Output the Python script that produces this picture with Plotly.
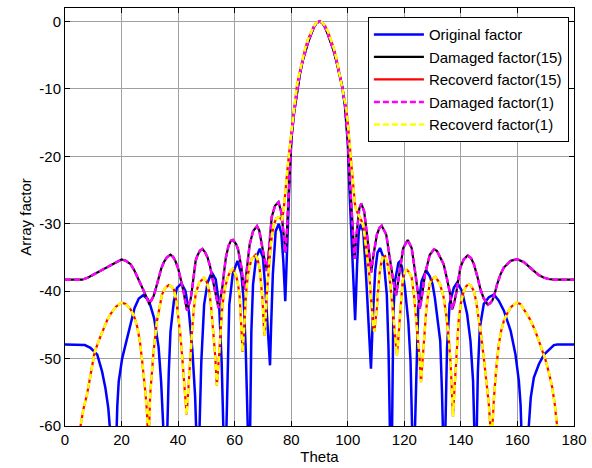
import plotly.graph_objects as go

# ---------------- data ----------------
orig_theta = [0, 3, 5.5, 7, 9, 11.4, 13.1, 14.3, 15.3, 16.2, 17, 18.0, 18.5, 19, 20.2, 21.4, 22.6, 23.4,
              24.6, 26.1, 27.7, 29.3, 30.1, 31.5, 33.1, 34, 34.6, 35.3, 35.9, 36.3, 36.7, 37.3, 38.5,
              39.6, 41.2, 42.6, 43.8, 45, 46, 46.6, 47.4, 48.2, 49.2, 50.4, 51.9, 53.3, 54.5, 55.4,
              56.1, 57.0, 57.6, 58.1, 59.3, 61.0, 62.4, 63.2, 63.9, 64.4, 64.8, 65.4, 65.9, 66.5, 67.6,
              68.9, 70, 70.9, 71.8, 72.5, 72.9, 73.5, 74.5, 75.6, 76.5, 77.2, 77.9, 78.5, 79.1, 79.6,
              80.2, 81, 82, 83, 84, 85, 86, 87, 88, 89, 90, 91, 92, 93, 94, 95, 96, 97, 98, 99, 100,
              100.6, 101.4, 102.1, 102.6, 103.3, 103.9, 104.6, 105.5, 106.5, 107.4, 108.2, 108.9, 109.7,
              110.5, 111.4, 112.6, 113.8, 114.4, 115.0, 115.6, 116.1, 116.7, 117.9, 118.4, 119.1, 120.2,
              121.4, 122.2, 122.9, 123.6, 124.1, 124.9, 126.1, 127.7, 129, 130, 130.8, 131.6, 132.7,
              133.3, 133.8, 134.4, 135.1, 136, 137.5, 138.7, 140.4, 142.2, 143.4, 144.3, 144.9, 145.5,
              146, 146.7, 148.1, 149.9, 151.7, 153.4, 155.2, 157.6, 159.3, 160.5, 161.1, 161.6, 162.5,
              163.7, 164.7, 165.8, 167.6, 169.4, 171.2, 172.9, 174.1, 180]
orig_db = [-47.9, -47.9, -47.9, -48.0, -48.4, -49.4, -51.9, -54.4, -57.3, -62, -70, -64, -57, -53.4, -50,
           -47.9, -46, -44.5, -42.5, -41.1, -40.6, -41.2, -42, -44, -48.3, -53.5, -58.5, -65, -65, -58,
           -52, -46, -41.5, -39.5, -38.85, -40, -43, -48.5, -55.5, -63, -63, -50.5, -42, -38.75, -37.2,
           -38.25, -42, -50.5, -62, -62, -49, -42, -37.5, -35.5, -37.5, -41.5, -48.4, -55.8, -63, -63,
           -46, -39, -35, -33.7, -35, -40, -47.4, -51, -45, -37.5, -31.1, -30, -31.4, -35.5, -41.5,
           -35.5, -27, -21.1, -16.8, -13.5, -10.3, -7.9, -5.9, -4.3, -3.0, -1.9, -0.85, -0.2, 0, -0.2,
           -0.85, -1.9, -3.0, -4.3, -5.9, -7.7, -9.6, -12.5, -18, -25, -33.5, -39.4, -44.3, -36, -31.1,
           -30.1, -31.2, -38, -45.9, -51.5, -43.5, -37, -34.3, -33.6, -35, -40.5, -48.4, -63, -63, -43.5,
           -38.5, -35.8, -35.6, -36.3, -39.5, -44.5, -50.4, -63, -63, -55, -42.5, -38.5, -36.9, -37.8,
           -39, -41, -44, -47.4, -54.8, -63, -63, -48.4, -41.9, -39.5, -38.7, -40, -43.4, -47.4, -53.3,
           -63, -63, -52, -45.4, -41.9, -40.9, -40.5, -41.4, -42.9, -45.9, -49.4, -53.3, -56.8, -63,
           -70, -62, -55.8, -52.8, -50.8, -49.4, -48.6, -48, -47.9, -47.9]

dmg_theta = [0, 3, 6, 8, 10.2, 12.5, 15, 17.5, 20, 21.5, 23.2, 24.5, 25.6, 26.8, 27.9, 28.8, 29.7, 30.5,
             31.3, 32.2, 33.1, 34, 34.9, 36, 37.3, 38.2, 39, 40, 40.8, 41.4, 42, 42.6, 43.2, 43.7, 44.4,
             45, 45.6, 46.2, 46.8, 47.7, 48.6, 49.5, 50.4, 51.3, 52.1, 52.7, 53.3, 54.3, 55, 55.7, 56.3,
             56.9, 57.8, 58.7, 59.4, 60.5, 61.2, 61.8, 62.4, 63.2, 63.6, 64.1, 64.7, 65.3, 66.5, 67.9,
             68.7, 69.6, 70.5, 71.3, 71.9, 72.5, 73.1, 74.3, 75.5, 76.5, 77.3, 78, 78.5, 79.1, 79.5, 80,
             81, 82, 83, 84, 85, 86, 87, 88, 89, 90, 91, 92, 93, 94, 95, 96, 97, 98, 99, 99.5, 100,
             100.6, 101.1, 101.8, 102.4, 103, 103.5, 104.1, 104.8, 105.8, 107, 107.7, 108.3, 109.1, 110.3,
             111.2, 112, 113.6, 115, 116.1, 117.1, 118.2, 119.6, 121.2, 122.6, 124.1, 125.5, 126.3, 127.3,
             129, 130.5, 131.5, 133.9, 135, 136, 136.9, 137.6, 138.3, 139, 139.8, 141, 142.4, 143.6,
             144.6, 145.8, 146.9, 148, 149.5, 150.3, 151.1, 152, 152.8, 154, 155.2, 157.6, 159.9, 162.3,
             164, 165.8, 167.5, 169.4, 171, 172.9, 180]
dmg_db = [-38.3, -38.3, -38.3, -38, -37.5, -37, -36.4, -35.8, -35.3, -35.5, -36, -36.9, -38, -39, -40,
          -41, -41.8, -41.4, -40.75, -39.5, -38, -36.7, -35.75, -35, -34.6, -34.9, -35.5, -36.6, -38,
          -39, -40.25, -41.7, -42.9, -42.2, -41.25, -39.5, -37, -35.5, -34.75, -34, -33.75, -34.2, -35,
          -36.3, -38, -39.3, -40.5, -42.5, -41, -39.25, -37, -35, -33.3, -32.5, -32.4, -33, -33.8, -35,
          -36.5, -39.5, -39.7, -37.5, -35, -33.1, -31.1, -30.35, -31, -33, -35.5, -37, -35, -31.5, -29,
          -27.3, -26.8, -28.3, -31.5, -34.3, -31, -24.6, -21, -17.5, -13.5, -10.3, -7.9, -5.9, -4.3,
          -3.0, -1.9, -0.85, -0.2, 0, -0.2, -0.85, -1.9, -3.0, -4.3, -5.9, -7.7, -9.6, -12.3, -14.7,
          -17.5, -22.5, -26, -31.5, -35.2, -32, -29.5, -27.7, -27, -28.2, -32.3, -35, -37.2, -34.6,
          -31.6, -30.6, -30.3, -31.6, -35.5, -38.5, -40.6, -37.5, -33.6, -32.4, -33.6, -38, -42.6,
          -40.5, -37.5, -34.6, -33.8, -34, -36, -38, -40, -42.7, -41.8, -40.4, -38.5, -36.5, -35.3,
          -34.7, -35.1, -36, -37.8, -39.7, -41, -42, -41.8, -41.4, -40.3, -39, -37.5, -36.5, -35.5,
          -35.25, -35.7, -36.4, -37, -37.6, -38, -38.2, -38.3, -38.3]

rec_theta = [4.5, 5.5, 6.5, 7.8, 9, 10.5, 12, 13.7, 15, 16.1, 18, 20, 21.5, 23.2, 24.5, 25.6, 26.5, 27.3,
             28, 28.5, 29, 29.5, 30.1, 30.7, 31.3, 32.5, 33.4, 34.3, 35.5, 36.7, 37.6, 38.5, 39.4, 40.2,
             40.8, 41.4, 42, 42.4, 43, 43.4, 43.8, 44.4, 45, 45.6, 46.2, 47.4, 49.2, 50.1, 51, 51.6, 52.1,
             52.7, 53.1, 53.7, 54.1, 54.5, 55.1, 55.7, 56.6, 57.5, 58.4, 59.4, 60.6, 61.2, 61.8, 62.4,
             62.8, 63.2, 63.5, 64.1, 64.7, 65.9, 67.4, 68.1, 68.8, 69.3, 69.8, 70.1, 70.5, 70.8, 71.2, 72,
             72.8, 73.7, 74.7, 75.8, 76.7, 77.3, 78.2, 79.1, 80, 80.8, 81.5, 82, 83, 84, 85, 86, 87, 88,
             89, 90, 91, 92, 93, 94, 95, 96, 97, 98, 99, 99.5, 100, 101, 101.8, 102.5, 103, 104.1, 105,
             105.6, 106.5, 107.2, 107.7, 108.1, 108.6, 109.1, 109.4, 109.8, 110.3, 110.7, 111.2, 111.8,
             112.4, 113.2, 114.4, 115, 115.6, 116.1, 116.5, 117.4, 117.8, 118.2, 118.8, 119.4, 120.2,
             120.8, 121.7, 122.6, 123.4, 124.1, 124.7, 125.3, 125.9, 126.3, 126.7, 127.2, 127.8, 128.4,
             129, 130, 131, 132.5, 133.9, 134.8, 135.7, 136.4, 136.9, 137.2, 137.6, 138.1, 138.6, 139.2,
             140, 141, 142, 142.8, 143.6, 144.6, 145.4, 146.3, 147.2, 148.1, 149, 149.9, 150.4, 150.8,
             151.3, 151.7, 152.5, 153.4, 154.3, 155.2, 156.4, 157.6, 158.7, 159.9, 161, 162.3, 163.5,
             164.7, 166.2, 167.6, 168.8, 170, 171.2, 172.3, 173.2, 174.1, 174.8]
rec_db = [-65, -60, -57.5, -55.3, -52.5, -49, -47.3, -45.4, -44.2, -43.4, -42.3, -41.7, -41.9, -42.7,
          -43.8, -45.4, -47.5, -50.4, -53, -55.3, -58, -64, -55.5, -52, -49, -44.5, -42.2, -40.5, -39.5,
          -39.1, -39.3, -39.75, -41.5, -44, -46.5, -49.5, -53, -56, -58.3, -56, -53, -49, -45.5, -42.5,
          -40.5, -38.75, -38, -38.6, -40, -42, -44.5, -47.2, -49.5, -54, -52, -49.5, -45.5, -42, -39.5,
          -38, -37.1, -36.7, -37.8, -39, -41, -45, -49, -46.5, -43.5, -40, -37.5, -35.3, -34.6, -35.3,
          -36.5, -38.5, -41, -43.5, -46.6, -45, -41.5, -37, -33, -30.3, -29.2, -29, -29.5, -28, -23.6,
          -20.1, -16.7, -14, -10.8, -9.6, -7.5, -5.5, -3.9, -2.6, -1.5, -0.7, -0.15, 0, -0.15, -0.7,
          -1.5, -2.6, -3.9, -5.5, -7.5, -9.6, -11.5, -13, -15, -19.5, -24.1, -27, -28, -29, -29.7, -30.6,
          -33.5, -36, -37.9, -40.5, -43.5, -45.5, -46, -44.5, -42.5, -40, -37.5, -35.9, -35, -34.8,
          -36.5, -38.8, -41.5, -44.2, -46.4, -49.5, -47.5, -45, -41.5, -38.5, -37.1, -36.8, -37.2, -38,
          -40.5, -43.5, -46.5, -49.4, -53.5, -51, -48.4, -45.2, -42.5, -40.5, -38.8, -38.1, -37.9,
          -38.8, -40.9, -43.5, -46.9, -51, -55.8, -58.6, -55.5, -51.8, -47.8, -44.4, -41.8, -40, -39.2,
          -39, -39.2, -40, -41.5, -43.9, -46.7, -49.9, -53.3, -56.8, -60, -64, -59, -55.8, -51.5, -47.9,
          -45.8, -44.4, -43.3, -42.4, -42, -41.7, -41.9, -42.7, -43.5, -44.4, -45.8, -47.4, -48.8,
          -50.3, -52.2, -54.3, -56.8, -60, -63]

x_ticks = [0, 20, 40, 60, 80, 100, 120, 140, 160, 180]
x_labels = ["0", "20", "40", "60", "80", "100", "120", "140", "160", "180"]
y_ticks = [-60, -50, -40, -30, -20, -10, 0]
y_labels = ["-60", "-50", "-40", "-30", "-20", "-10", "0"]

# ---------------- figure ----------------
FONT = "Liberation Sans, Arial, sans-serif"
fig = go.Figure()

fig.add_trace(go.Scatter(x=orig_theta, y=orig_db, mode="lines", name="Original factor",
                         line=dict(color="#0000ff", width=2.5)))
fig.add_trace(go.Scatter(x=dmg_theta, y=dmg_db, mode="lines", name="Damaged factor(15)",
                         line=dict(color="#000000", width=2.2)))
fig.add_trace(go.Scatter(x=rec_theta, y=rec_db, mode="lines", name="Recoverd factor(15)",
                         line=dict(color="#ff0000", width=2.2)))
fig.add_trace(go.Scatter(x=dmg_theta, y=dmg_db, mode="lines", name="Damaged factor(1)",
                         line=dict(color="#ff00ff", width=2.5, dash="6px,3px")))
fig.add_trace(go.Scatter(x=rec_theta, y=rec_db, mode="lines", name="Recoverd factor(1)",
                         line=dict(color="#ffff00", width=2.5, dash="6px,3px")))

axis_common = dict(
    showline=True, linecolor="black", linewidth=1, mirror="ticks",
    ticks="inside", ticklen=5, tickcolor="black", tickwidth=1,
    showgrid=True, gridcolor="#a0a0a0", gridwidth=1, zeroline=False,
    tickfont=dict(family=FONT, size=15, color="black"),
)

fig.update_xaxes(range=[0, 180], tickvals=x_ticks, ticktext=x_labels,
                 title=dict(text="Theta", font=dict(family=FONT, size=15, color="black"), standoff=4),
                 **axis_common)
fig.update_yaxes(range=[-60, 2], tickvals=y_ticks, ticktext=y_labels,
                 title=dict(text="Array factor", font=dict(family=FONT, size=15, color="black"), standoff=4),
                 **axis_common)

fig.update_layout(
    width=592, height=468,
    margin=dict(l=65, r=18, t=8, b=42, autoexpand=False),
    paper_bgcolor="white", plot_bgcolor="white",
    font=dict(family=FONT, size=15, color="black"),
    showlegend=True,
    legend=dict(x=0.99, y=0.978, xanchor="right", yanchor="top",
                bgcolor="white", bordercolor="black", borderwidth=1,
                font=dict(family=FONT, size=15, color="black"),
                itemwidth=50, tracegroupgap=0),
)

fig.write_html("out.html")
